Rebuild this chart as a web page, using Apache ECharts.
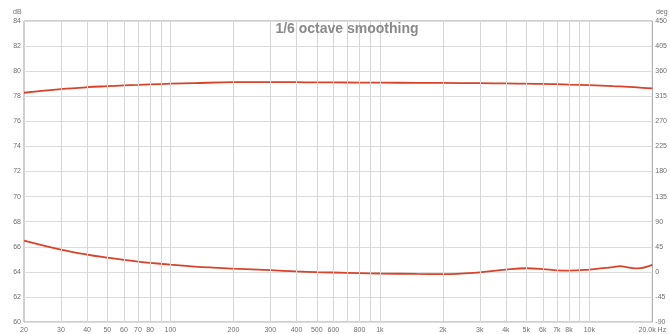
<!DOCTYPE html>
<html>
<head>
<meta charset="utf-8">
<script src="https://cdn.jsdelivr.net/npm/echarts@6/dist/echarts.min.js"></script>
<style>html,body{margin:0;padding:0;background:#fff}#c{width:670px;height:334px}</style>
</head>
<body>
<div id="c"></div>
<script>
// Frequencies (Hz)
var freqs = [20,30,40,50,60,70,80,100,130,200,300,400,500,600,800,1000,1500,2000,3000,4000,5000,6000,7000,8000,10000,13000,14000,15500,17000,20000];
// SPL (dB), left axis
var splDb = [78.28,78.57,78.72,78.80,78.86,78.90,78.94,79.00,79.05,79.12,79.13,79.12,79.10,79.10,79.09,79.08,79.07,79.06,79.04,79.02,79.00,78.98,78.96,78.93,78.88,78.80,78.78,78.74,78.70,78.62];
// Phase (deg), right axis
var phaseDeg = [56.2,40.0,31.0,25.5,21.5,18.5,16.2,12.9,9.5,5.8,3.0,0.8,-0.5,-1.2,-2.3,-3.0,-3.8,-4.1,-0.8,4.1,6.4,5.0,2.6,2.0,4.1,8.3,10.2,7.6,6.2,12.4];
// X tick labels
var tickValues = [20,30,40,50,60,70,80,100,200,300,400,500,600,800,1000,2000,3000,4000,5000,6000,7000,8000,10000,20000];
var tickLabels = ['20','30','40','50','60','70','80','100','200','300','400','500','600','800','1k','2k','3k','4k','5k','6k','7k','8k','10k','20.0k Hz'];
// Vertical grid lines
var gridFreqs = [30,40,50,60,70,80,90,100,200,300,400,500,600,700,800,900,1000,2000,3000,4000,5000,6000,7000,8000,9000,10000];

var chart = echarts.init(document.getElementById('c'), null, {renderer:'canvas'});
var labelColor = '#6e6e6e';
var font = 'Liberation Sans, Arial, sans-serif';
chart.setOption({
  animation:false,
  backgroundColor:'#fff',
  title:{text:'1/6 octave smoothing', left:342, top:17, textAlign:'center',
    textStyle:{fontSize:14, fontWeight:'bold', color:'#8a8a8a', fontFamily:font}},
  grid:{left:24, right:16, top:21, bottom:8, show:true, borderColor:'#a0a0a0', borderWidth:1, containLabel:false},
  xAxis:{type:'log', logBase:10, min:20, max:20000,
    axisLine:{show:false}, axisTick:{show:false}, splitLine:{show:false},
    axisLabel:{customValues:tickValues, fontSize:7, color:labelColor, fontFamily:font, margin:5,
      formatter:function(v){var i=tickValues.indexOf(Math.round(v)); return i>=0?tickLabels[i]:'';}}
  },
  yAxis:[
    {type:'value', min:60, max:84, interval:2, position:'left',
      axisLine:{show:false}, axisTick:{show:false},
      splitLine:{lineStyle:{color:'#dcdcdc', width:1}},
      axisLabel:{fontSize:7, color:labelColor, fontFamily:font, margin:3}},
    {type:'value', min:-90, max:450, interval:45, position:'right',
      axisLine:{show:false}, axisTick:{show:false}, splitLine:{show:false},
      axisLabel:{fontSize:7, color:labelColor, fontFamily:font, margin:3}}
  ],
  graphic:[
    {type:'text', left:13, top:9, style:{text:'dB', fontSize:7, fill:labelColor, fontFamily:font}},
    {type:'text', left:656, top:9, style:{text:'deg', fontSize:7, fill:labelColor, fontFamily:font}}
  ],
  series:[
    {type:'line', data:[], silent:true, z:1,
      markLine:{silent:true, symbol:['none','none'], label:{show:false},
        lineStyle:{color:'#d6d6d6', type:'solid', width:1},
        data:gridFreqs.map(function(f){return {xAxis:f};})}},
    {name:'SPL', type:'line', yAxisIndex:0, z:3, smooth:0.4, showSymbol:false,
      data:freqs.map(function(f,i){return [f, splDb[i]];}),
      lineStyle:{color:'#d8432b', width:1.8}},
    {name:'Phase', type:'line', yAxisIndex:1, z:3, smooth:0.4, showSymbol:false,
      data:freqs.map(function(f,i){return [f, phaseDeg[i]];}),
      lineStyle:{color:'#d8432b', width:1.8}}
  ]
});
</script>
</body>
</html>
